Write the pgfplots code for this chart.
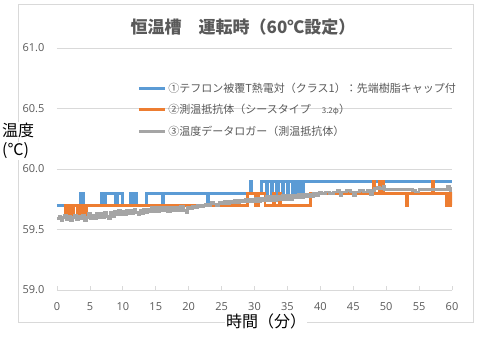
\documentclass[border=0pt]{standalone}
\usepackage{pgfplots}
\pgfplotsset{compat=1.18}
\usepackage{fontspec}
\setmainfont{Noto Sans CJK JP}
\newfontfamily\ticksfont{Open Sans}
\definecolor{cblue}{HTML}{5B9BD5}
\definecolor{corange}{HTML}{ED7D31}
\definecolor{cgray}{HTML}{A5A5A5}
\definecolor{gridc}{HTML}{D9D9D9}
\definecolor{txt}{HTML}{595959}
\begin{document}
\begin{tikzpicture}
\useasboundingbox (-57bp,-58bp) rectangle (423bp,290bp);
\draw[gridc, line width=0.75bp] (-39bp,-32bp) rectangle (416bp,286bp);
\begin{axis}[
  at={(0,0)}, anchor=south west,
  scale only axis, width=395bp, height=242bp,
  xmin=0, xmax=60, ymin=59, ymax=61,
  xtick={0,5,...,60}, ytick={59,59.5,60,60.5,61},
  axis x line*=bottom, axis y line*=left,
  x axis line style={draw=gridc, line width=0.75bp},
  y axis line style={draw=none},
  ymajorgrids, grid style={draw=gridc, line width=0.75bp},
  tick align=inside, major tick length=4bp,
  xtick style={draw=gridc, line width=0.75bp},
  ytick style={draw=none},
  /pgf/number format/assume math mode=true,
  tick label style={font=\ticksfont\fontsize{11bp}{13bp}\selectfont, text=txt},
  yticklabel style={/pgf/number format/fixed, /pgf/number format/precision=1, /pgf/number format/fixed zerofill, anchor=east, inner sep=0pt, xshift=-12.5bp},
  xticklabel style={anchor=center, inner sep=0pt, yshift=-17bp},
  legend style={draw=none, fill=none, at={(0.203,0.866)}, anchor=north west,
    font=\fontsize{11bp}{13bp}\selectfont, text=txt, row sep=7bp, inner sep=0pt},
  legend cell align=left,
  legend image code/.code={\draw[#1, line width=3bp] (0bp,0bp) -- (26bp,0bp);},
]
\addplot[const plot, cblue, line width=3bp] coordinates {
(0,59.7) (3.6,59.8) (4.0,59.7) (6.8,59.8) (7.2,59.7) (7.35,59.8) (8.9,59.7) (9.2,59.8)
(9.9,59.7) (11.1,59.8) (11.5,59.7) (11.7,59.8) (12.1,59.7) (13.6,59.8) (16.0,59.7) (16.2,59.8)
(22.85,59.7) (23.05,59.8) (29.4,59.9) (29.6,59.8) (31.0,59.9) (31.8,59.8) (32.0,59.9) (32.6,59.8)
(32.8,59.9) (33.4,59.8) (33.6,59.9) (34.2,59.8) (34.4,59.9) (35.0,59.8) (35.2,59.9) (35.8,59.8)
(36.0,59.9) (36.6,59.8) (36.8,59.9) (37.3,59.8) (37.5,59.9) (60,59.9)
};
\addlegendentry{①テフロン被覆T熱電対（クラス1）：先端樹脂キャップ付}
\addplot[const plot, corange, line width=2.8bp] coordinates {
(1.0,59.7) (1.3,59.6) (1.45,59.7) (1.55,59.6) (1.7,59.7) (1.8,59.6) (1.95,59.7) (2.05,59.6)
(2.2,59.7) (2.3,59.6) (2.45,59.7) (3.1,59.6) (3.25,59.7) (3.35,59.6) (3.5,59.7) (3.6,59.6)
(3.75,59.7) (3.85,59.6) (4.0,59.7) (4.1,59.6) (4.25,59.7) (4.35,59.6) (4.5,59.7)
(28.9,59.8) (30.1,59.7) (30.6,59.8) (31.6,59.7) (32.9,59.8) (33.1,59.7) (33.8,59.8) (34.0,59.7) (38.5,59.8)
(48.0,59.9) (48.2,59.8) (48.9,59.9) (49.05,59.8) (49.3,59.9) (49.6,59.8)
(53.0,59.7) (53.2,59.8) (57.0,59.9) (57.2,59.8)
(59.2,59.7) (59.35,59.8) (59.45,59.7) (59.6,59.8) (59.7,59.7) (59.85,59.8) (59.9,59.7) (60,59.7)
};
\addlegendentry{②測温抵抗体（シースタイプ　{\fontsize{8bp}{10bp}\selectfont 3.2φ}）}
\addplot[const plot, cgray, line width=2.8bp] coordinates {
(0.0,59.59) (0.3,59.61) (0.6,59.57) (0.9,59.60) (1.2,59.62) (1.5,59.58) (1.8,59.61) (2.1,59.57)
(2.4,59.60) (2.7,59.62) (3.0,59.58) (3.3,59.61) (3.6,59.59) (3.9,59.62) (4.2,59.57) (4.5,59.60)
(4.8,59.63) (5.1,59.59) (5.4,59.62) (5.7,59.59) (6.0,59.63) (6.3,59.60) (6.6,59.63) (6.9,59.60)
(7.2,59.64) (7.5,59.61) (7.8,59.59) (8.1,59.64) (8.4,59.61) (8.7,59.65) (9.0,59.62) (9.3,59.66)
(9.6,59.62) (9.9,59.65) (10.2,59.62) (10.5,59.66) (10.8,59.63) (11.1,59.66) (11.4,59.63) (11.7,59.67)
(12.0,59.64) (12.3,59.62) (12.6,59.66) (12.9,59.63) (13.2,59.67) (13.5,59.64) (13.8,59.67) (14.1,59.65)
(14.4,59.68) (14.7,59.65) (15.0,59.68) (15.3,59.65) (15.6,59.68) (16.0,59.66) (16.4,59.68) (16.8,59.65)
(17.2,59.68) (17.6,59.66) (18.0,59.68) (18.4,59.66) (18.8,59.69) (19.2,59.66) (19.6,59.64) (19.8,59.68)
(20.2,59.67) (20.6,59.69) (21.0,59.68) (21.4,59.70) (21.8,59.69) (22.2,59.70) (22.6,59.71) (23.0,59.70)
(23.4,59.72) (23.8,59.71) (24.2,59.70) (24.6,59.72) (25.0,59.71) (25.4,59.73) (25.8,59.71) (26.2,59.73)
(26.6,59.72) (27.0,59.74) (27.4,59.72) (27.8,59.74) (28.2,59.73) (28.6,59.75) (29.0,59.73) (29.4,59.75)
(29.8,59.73) (30.2,59.76) (30.6,59.73) (31.0,59.76) (31.4,59.74) (31.8,59.77) (32.2,59.74) (32.6,59.77)
(33.0,59.74) (33.4,59.77) (33.8,59.75) (34.2,59.78) (34.6,59.75) (35.0,59.78) (35.4,59.75) (35.8,59.78)
(36.2,59.76) (36.6,59.79) (37.0,59.76) (37.4,59.79) (37.8,59.77) (38.2,59.79) (38.6,59.77) (39.0,59.80)
(39.4,59.78) (39.8,59.81) (40.2,59.80) (40.8,59.81) (41.4,59.80) (42.0,59.81) (42.6,59.82) (43.0,59.78)
(43.3,59.81) (44.0,59.82) (44.6,59.81) (45.0,59.78) (45.3,59.81) (46.0,59.82) (46.6,59.81) (47.2,59.82)
(47.6,59.79) (47.9,59.82) (48.2,59.84) (48.6,59.85) (49.0,59.84) (49.6,59.86) (49.8,59.83) (51.0,59.83)
(52.0,59.83) (53.0,59.83) (54.0,59.82) (54.5,59.81) (55.0,59.83) (56.0,59.83) (57.0,59.83) (58.0,59.83)
(59.0,59.83) (59.3,59.86) (59.6,59.84) (59.8,59.82) (60.0,59.82)
};
\addlegendentry{③温度データロガー（測温抵抗体）}
\end{axis}
\node[text=txt, font=\bfseries\fontsize{17bp}{20bp}\selectfont] at (186bp,263bp) {恒温槽　運転時（60℃設定）};
\node[fill=white, inner sep=1bp, anchor=west, font=\fontsize{16bp}{19bp}\selectfont] at (-56bp,160bp) {温度};
\node[fill=white, inner sep=1bp, anchor=west, font=\fontsize{16bp}{19bp}\selectfont] at (-56bp,139bp) {(℃)};
\node[fill=white, inner sep=1bp, font=\fontsize{16bp}{19bp}\selectfont] at (209bp,-31bp) {時間（分）};
\end{tikzpicture}
\end{document}
